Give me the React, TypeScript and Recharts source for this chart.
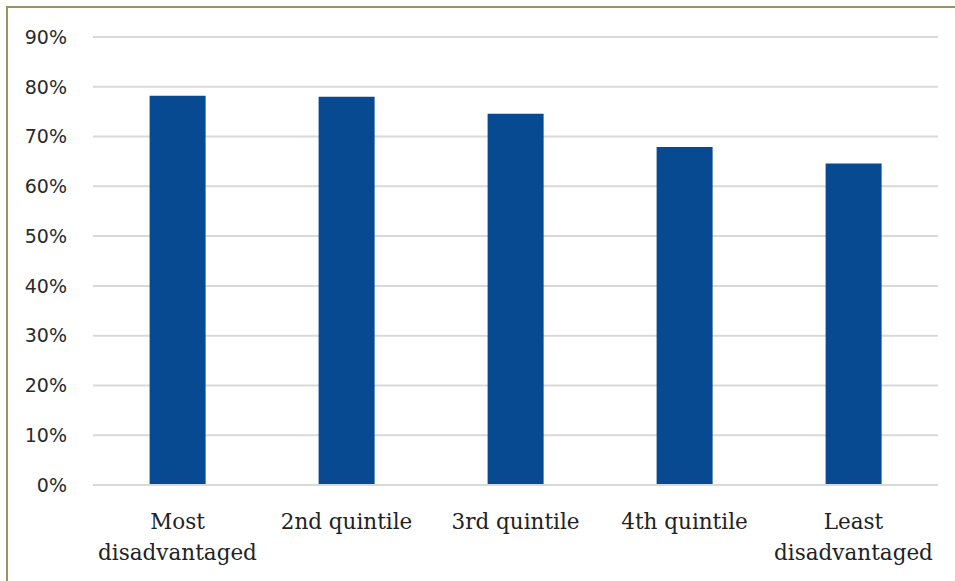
import React from "react";
import { BarChart, Bar, XAxis, YAxis, CartesianGrid } from "recharts";

const categories = ["Most\ndisadvantaged", "2nd quintile", "3rd quintile", "4th quintile", "Least\ndisadvantaged"];
const values = [78.2, 78.0, 74.6, 67.9, 64.6];
const yTicks = [0, 10, 20, 30, 40, 50, 60, 70, 80, 90];

const data = categories.map((c, i) => ({ name: c, value: values[i] }));

const XTick = (props: any) => {
  const { x, y, payload } = props;
  const lines = String(payload.value).split("\n");
  return (
    <g transform={`translate(${x},${y})`}>
      {lines.map((l, i) => (
        <text
          key={i}
          x={0}
          y={36 + i * 31}
          textAnchor="middle"
          fill="#222"
          fontFamily="'DejaVu Serif', serif"
          fontSize={21.5}
          fontWeight={300}
        >
          {l}
        </text>
      ))}
    </g>
  );
};

export default function App() {
  return (
    <div style={{ position: "fixed", left: 0, top: 0, width: 955, height: 581, overflow: "hidden", background: "#fff" }}>
      <div
        style={{
          position: "absolute",
          left: 6,
          top: 6,
          width: 1100,
          height: 1100,
          borderLeft: "2px solid #9b9260",
          borderTop: "2px solid #9b9260",
        }}
      />
      <div style={{ position: "absolute", left: 0, top: 0 }}>
        <BarChart
          width={955}
          height={581}
          data={data}
          margin={{ top: 37, right: 17, bottom: 0, left: 0 }}
          barCategoryGap="33.5%"
        >
          <CartesianGrid vertical={false} stroke="#d9d9d9" strokeWidth={2} />
          <XAxis
            dataKey="name"
            tick={<XTick />}
            tickLine={false}
            axisLine={{ stroke: "#d9d9d9", strokeWidth: 2 }}
            interval={0}
            height={96}
          />
          <YAxis
            domain={[0, 90]}
            ticks={yTicks}
            tickFormatter={(v: number) => `${v}%`}
            axisLine={false}
            tickLine={false}
            tickSize={0}
            tickMargin={26}
            width={93}
            tick={{ fill: "#2a2a2a", fontFamily: "'DejaVu Sans', sans-serif", fontSize: 19 }}
          />
          <Bar dataKey="value" fill="#074a91" isAnimationActive={false} />
        </BarChart>
      </div>
    </div>
  );
}
